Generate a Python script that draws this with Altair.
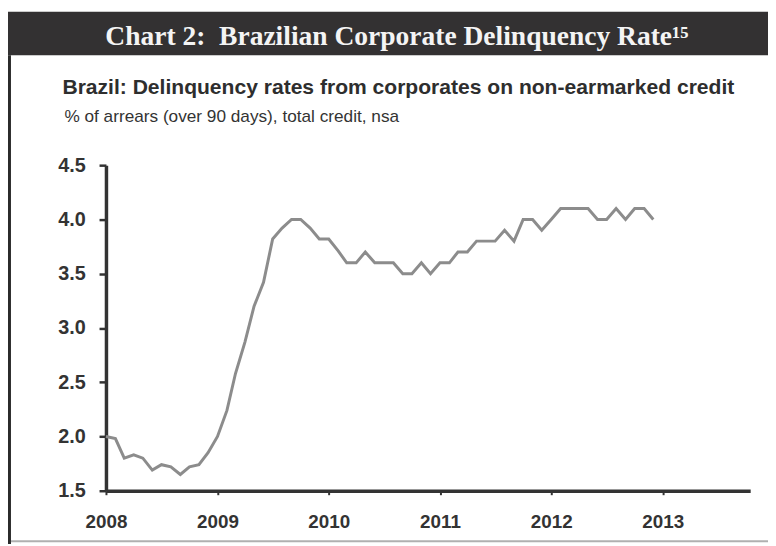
import altair as alt
import pandas as pd

# ---- data ----
months = pd.date_range("2008-01-01", "2012-12-01", freq="MS").strftime("%Y-%m-%d").tolist()
rate_2008 = [2.0, 1.98, 1.8, 1.83, 1.8, 1.69, 1.74, 1.72, 1.65, 1.72, 1.74, 1.85]
rate_2009 = [2.0, 2.24, 2.58, 2.87, 3.2, 3.42, 3.82, 3.92, 4.0, 4.0, 3.92, 3.82]
rate_2010 = [3.82, 3.71, 3.6, 3.6, 3.7, 3.6, 3.6, 3.6, 3.5, 3.5, 3.6, 3.5]
rate_2011 = [3.6, 3.6, 3.7, 3.7, 3.8, 3.8, 3.8, 3.9, 3.8, 4.0, 4.0, 3.9]
rate_2012 = [4.0, 4.1, 4.1, 4.1, 4.1, 4.0, 4.0, 4.1, 4.0, 4.1, 4.1, 4.0]
rates = rate_2008 + rate_2009 + rate_2010 + rate_2011 + rate_2012

y_ticks = [1.5, 2.0, 2.5, 3.0, 3.5, 4.0, 4.5]
x_ticks = ["2008-01-01", "2009-01-01", "2010-01-01", "2011-01-01", "2012-01-01", "2013-01-01"]

header_title = "Chart 2:\u00a0 Brazilian Corporate Delinquency Rate\u00b9\u2075"
subtitle_1 = "Brazil: Delinquency rates from corporates on non-earmarked credit"
subtitle_2 = "% of arrears (over 90 days), total credit, nsa"

df = pd.DataFrame({"date": months, "rate": rates})
one = pd.DataFrame({"k": [0]})

SANS = "'Liberation Sans', Arial, sans-serif"
SERIF = "'Liberation Serif', 'Times New Roman', serif"
AX = "#333333"

W, H = 651, 329

line = alt.Chart(df).mark_line(color="#8c8c8c", strokeWidth=3).encode(
    x=alt.X(
        "date:T",
        scale=alt.Scale(domain=["2008-01-01", "2013-10-15"]),
        axis=alt.Axis(
            values=x_ticks, format="%Y", title=None, grid=False,
            domainColor=AX, domainWidth=3.5, tickColor=AX, tickWidth=2, tickSize=4,
            labelFont=SANS, labelFontWeight="bold", labelFontSize=19, labelColor=AX,
            labelPadding=18, labelFlush=False,
        ),
    ),
    y=alt.Y(
        "rate:Q",
        scale=alt.Scale(domain=[1.5, 4.5], nice=False, zero=False),
        axis=alt.Axis(
            values=y_ticks, format=".1f", title=None, grid=False,
            domainColor=AX, domainWidth=3.5, tickColor=AX, tickWidth=2.5, tickSize=7,
            labelFont=SANS, labelFontWeight="bold", labelFontSize=20, labelColor=AX,
            labelPadding=14,
        ),
    ),
)

header_bar = alt.Chart(one).mark_rect(color="#333132").encode(
    x=alt.value(-99), x2=alt.value(W + 18), y=alt.value(-155), y2=alt.value(-111)
)
left_border = alt.Chart(one).mark_rect(color="#2b2b2b").encode(
    x=alt.value(-99), x2=alt.value(-96), y=alt.value(-111), y2=alt.value(H + 60)
)
bottom_line = alt.Chart(one).mark_rect(color="#b0b0b0").encode(
    x=alt.value(-96), x2=alt.value(W + 18), y=alt.value(H + 50), y2=alt.value(H + 52)
)
title_txt = alt.Chart(one).mark_text(
    text=header_title, font=SERIF, fontWeight="bold", fontSize=27.8, color="#f4f4f4",
    align="center", baseline="alphabetic",
).encode(x=alt.value(294), y=alt.value(-121))
sub1_txt = alt.Chart(one).mark_text(
    text=subtitle_1, font=SANS, fontWeight="bold", fontSize=21.3, color="#2e2e2e",
    align="left", baseline="alphabetic",
).encode(x=alt.value(-44), y=alt.value(-72))
sub2_txt = alt.Chart(one).mark_text(
    text=subtitle_2, font=SANS, fontSize=17.4, color="#333333",
    align="left", baseline="alphabetic",
).encode(x=alt.value(-42), y=alt.value(-44))

chart = alt.layer(
    header_bar, left_border, bottom_line, title_txt, sub1_txt, sub2_txt, line
).properties(
    width=W, height=H,
    autosize=alt.AutoSizeParams(type="none"),
    padding={"left": 99, "top": 156, "right": 18, "bottom": 51},
    background="white",
).configure_view(stroke=None)

chart.save("out.html", embed_options={"renderer": "svg", "actions": False})
